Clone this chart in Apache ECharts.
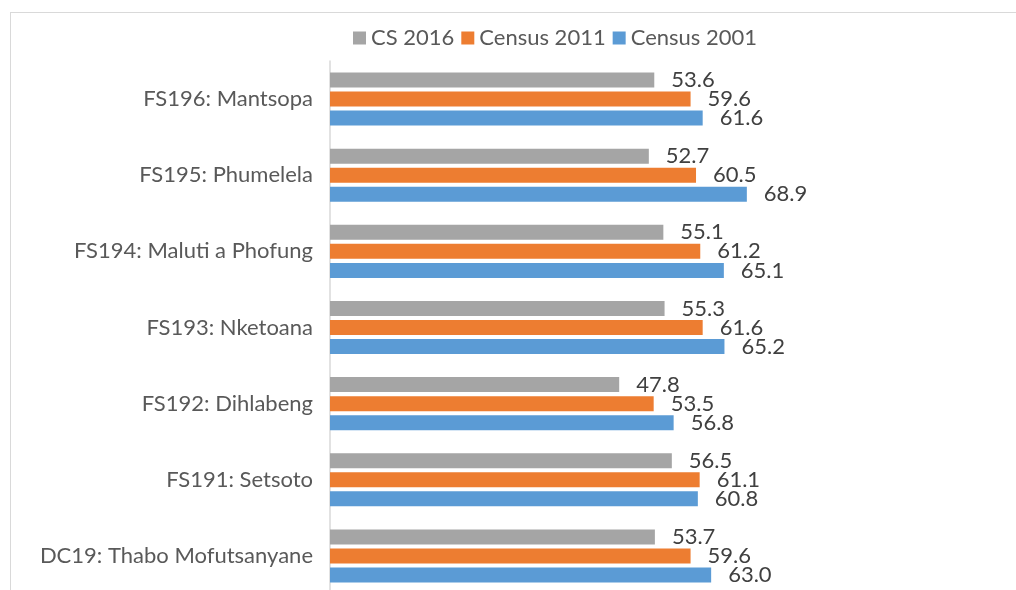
<!DOCTYPE html>
<html>
<head>
<meta charset="UTF-8">
<title>Bar chart</title>
<script src="https://cdn.jsdelivr.net/npm/echarts@6/dist/echarts.min.js"></script>
<style>
  html, body { margin: 0; padding: 0; background: #fff; overflow: hidden; }
  #frame { position: absolute; left: 10px; top: 12px; width: 1200px; height: 800px; border: 1.5px solid #d9d9d9; }
  #main { position: absolute; left: 0; top: 0; width: 1016px; height: 590px; }
</style>
</head>
<body>
<div id="frame"></div>
<div id="main"></div>
<script>
// categories, bottom to top
var categories = ['DC19: Thabo Mofutsanyane', 'FS191: Setsoto', 'FS192: Dihlabeng', 'FS193: Nketoana',
                  'FS194: Maluti a Phofung', 'FS195: Phumelela', 'FS196: Mantsopa'];
var cs2016     = [53.7, 56.5, 47.8, 55.3, 55.1, 52.7, 53.6];
var census2011 = [59.6, 61.1, 53.5, 61.6, 61.2, 60.5, 59.6];
var census2001 = [63.0, 60.8, 56.8, 65.2, 65.1, 68.9, 61.6];

var fontName = 'Lato';
var grey = '#a5a5a5', orange = '#ed7d31', blue = '#5b9bd5';

function barSeries(name, data, color) {
    return {
        name: name,
        type: 'bar',
        data: data,
        barWidth: 15,
        barGap: '27%',
        itemStyle: { color: color },
        label: {
            show: true,
            position: 'right',
            distance: 17,
            color: '#404040',
            fontFamily: fontName,
            fontSize: 22,
            formatter: function (p) { return p.value.toFixed(1); }
        }
    };
}

var chart = echarts.init(document.getElementById('main'));
chart.setOption({
    animation: false,
    legend: {
        left: 348, top: 22,
        itemWidth: 13, itemHeight: 13, itemGap: 7,
        icon: 'rect',
        textStyle: { fontFamily: fontName, fontSize: 22, color: '#595959' },
        data: ['CS 2016', 'Census 2011', 'Census 2001']
    },
    grid: { left: 330, top: 61, height: 533, width: 605, outerBoundsMode: 'none' },
    xAxis: {
        type: 'value', min: 0, max: 100,
        show: false
    },
    yAxis: {
        type: 'category',
        data: categories,
        axisLine: { show: true, lineStyle: { color: '#d9d9d9', width: 1.5 } },
        axisTick: { show: false },
        axisLabel: { fontFamily: fontName, fontSize: 22, color: '#595959', margin: 17 }
    },
    series: [
        barSeries('CS 2016', cs2016, grey),
        barSeries('Census 2011', census2011, orange),
        barSeries('Census 2001', census2001, blue)
    ]
});
</script>
</body>
</html>
